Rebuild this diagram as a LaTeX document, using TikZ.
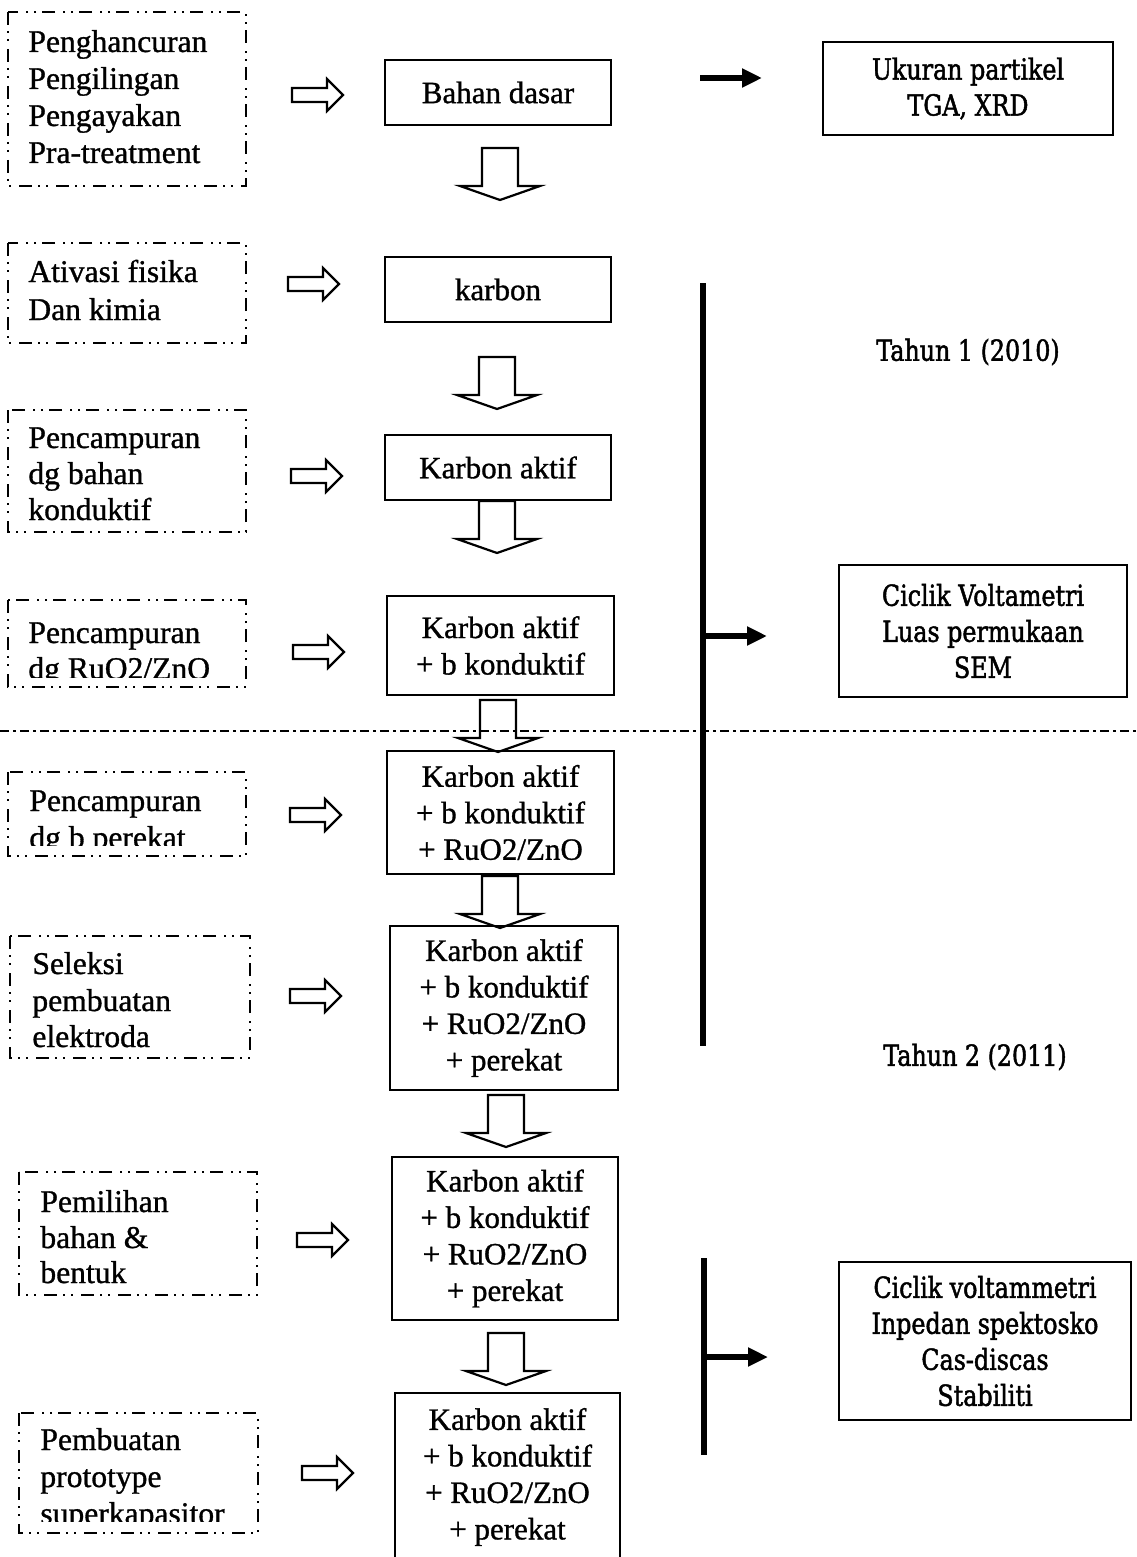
\documentclass[tikz,border=0pt]{standalone}
\usepackage{fontspec}
\setmainfont{Liberation Serif}[FakeBold=1]
\newfontfamily\rfont[FakeStretch=0.82,FakeBold=1.6]{DejaVu Serif}
\usetikzlibrary{arrows.meta}
\tikzset{
  lt/.style={font=\fontsize{15.8}{18.25}\selectfont, inner sep=0pt, anchor=base west},
  cbox/.style={draw, line width=1pt, font=\fontsize{15.5}{18.25}\selectfont, align=center, inner sep=0pt},
  rbox/.style={draw, line width=1pt, font=\rfont\fontsize{14.5}{18}\selectfont, align=center, inner sep=0pt},
  rtext/.style={font=\rfont\fontsize{14.5}{18}\selectfont, inner sep=0pt},
  dbox/.style={line width=1.1pt, dash pattern=on 6.5pt off 3pt on 1pt off 3pt on 1pt off 4pt},
  sepline/.style={line width=1.1pt, dash pattern=on 4.5pt off 2pt on 1.5pt off 2pt},
  vline/.style={line width=3.2pt},
  barrow/.style={line width=2.8pt, -{Triangle[length=10pt,width=9pt]}},
  hollowR/.pic={\draw[line width=1.1pt, line join=miter] (0,-7) -- (35,-7) -- (35,-16) -- (51,0) -- (35,16) -- (35,7) -- (0,7) -- cycle;},
  hollowD/.pic={\draw[line width=1.1pt, line join=miter] (-18,0) -- (18,0) -- (18,38) -- (40,38) -- (0,52) -- (-40,38) -- (-18,38) -- cycle;}
}
\begin{document}
\begin{tikzpicture}[x=0.5pt,y=-0.5pt]
\fill[white] (0,0) rectangle (1136,1557);
\useasboundingbox (0,0) rectangle (1136,1557);

% ---------- left dashed boxes ----------
\draw[dbox] (8,12) rectangle (246,186);
\node[lt] (d1a) at (28,52) {Penghancuran};
\node[lt] (d1b) at (28,89) {Pengilingan};
\node[lt] (d1c) at (28,126) {Pengayakan};
\node[lt] (d1d) at (28,163) {Pra-treatment};

\draw[dbox] (8,243) rectangle (246,343);
\node[lt] (d2a) at (28,282) {Ativasi fisika};
\node[lt] (d2b) at (28,320) {Dan kimia};

\draw[dbox] (8,410) rectangle (246,532);
\node[lt] (d3a) at (28,448) {Pencampuran};
\node[lt] (d3b) at (28,484) {dg bahan};
\node[lt] (d3c) at (28,520) {konduktif};

\draw[dbox] (8,600) rectangle (246,687);
\begin{scope}
\clip (10,602) rectangle (244,677);
\node[lt] (d4a) at (28,643) {Pencampuran};
\node[lt] (d4b) at (28,679) {dg RuO2/ZnO};
\end{scope}

\draw[dbox] (8,772) rectangle (246,856);
\begin{scope}
\clip (10,774) rectangle (244,845);
\node[lt] (d5a) at (29,811) {Pencampuran};
\node[lt] (d5b) at (29,848) {dg b perekat};
\end{scope}

\draw[dbox] (10,936) rectangle (250,1058);
\node[lt] (d6a) at (32,974) {Seleksi};
\node[lt] (d6b) at (32,1011) {pembuatan};
\node[lt] (d6c) at (32,1047) {elektroda};

\draw[dbox] (19,1172) rectangle (257,1295);
\node[lt] (d7a) at (40,1212) {Pemilihan};
\node[lt] (d7b) at (40,1248) {bahan \&};
\node[lt] (d7c) at (40,1283) {bentuk};

\draw[dbox] (19,1413) rectangle (258,1533);
\begin{scope}
\clip (21,1415) rectangle (256,1521);
\node[lt] (d8a) at (40,1450) {Pembuatan};
\node[lt] (d8b) at (40,1487) {prototype};
\node[lt] (d8c) at (40,1524) {superkapasitor};
\end{scope}

% ---------- hollow right arrows ----------
\pic at (292,95) {hollowR};
\pic at (288,284) {hollowR};
\pic at (291,476) {hollowR};
\pic at (293,652) {hollowR};
\pic at (290,815) {hollowR};
\pic at (290,996) {hollowR};
\pic at (297,1240) {hollowR};
\pic at (302,1473) {hollowR};

% ---------- centre boxes ----------
\node[cbox, minimum width=113pt, minimum height=32.5pt] (b1) at (498,92.5) {Bahan dasar};
\node[cbox, minimum width=113pt, minimum height=32.5pt] (b2) at (498,289.5) {karbon};
\node[cbox, minimum width=113pt, minimum height=32.5pt] (b3) at (498,467.5) {Karbon aktif};
\node[cbox, minimum width=113.5pt, minimum height=49.5pt] (b4) at (500.5,645.5) {Karbon aktif\\+ b konduktif};
\node[cbox, minimum width=113.5pt, minimum height=61.5pt] (b5) at (500.5,812.5) {Karbon aktif\\+ b konduktif\\+ RuO2/ZnO};
\node[cbox, minimum width=114pt, minimum height=82pt] (b6) at (504,1008) {Karbon aktif\\+ b konduktif\\+ RuO2/ZnO\\+ perekat};
\node[cbox, minimum width=113pt, minimum height=81.5pt] (b7) at (505,1238.5) {Karbon aktif\\+ b konduktif\\+ RuO2/ZnO\\+ perekat};
\node[cbox, minimum width=112.5pt, minimum height=84pt] (b8) at (507.5,1477) {Karbon aktif\\+ b konduktif\\+ RuO2/ZnO\\+ perekat};

% ---------- hollow down arrows ----------
\pic at (500,148) {hollowD};
\pic at (497,357) {hollowD};
\pic at (497,501) {hollowD};
\pic at (498,700) {hollowD};
\pic at (500,876) {hollowD};
\pic at (506,1095) {hollowD};
\pic at (506,1333) {hollowD};

% ---------- separator ----------
\coordinate (sepL) at (0,731);
\coordinate (sepR) at (1136,731);
\draw[sepline] (sepL) -- (sepR);

% ---------- right column ----------
\node[rbox, minimum width=145pt, minimum height=46.5pt] (r1) at (968,88.5) {Ukuran partikel\\TGA, XRD};
\node[rbox, minimum width=144pt, minimum height=66pt] (r2) at (983,631) {Ciclik Voltametri\\Luas permukaan\\SEM};
\node[rbox, minimum width=146pt, minimum height=79pt] (r3) at (985,1341) {Ciclik voltammetri\\Inpedan spektosko\\Cas-discas\\Stabiliti};
\node[rtext] (t1) at (968,352) {Tahun 1 (2010)};
\node[rtext] (t2) at (975,1057) {Tahun 2 (2011)};

\coordinate (v1t) at (703,283);
\coordinate (v1b) at (703,1046);
\coordinate (v2t) at (704,1258);
\coordinate (v2b) at (704,1455);
\draw[vline] (v1t) -- (v1b);
\draw[vline] (v2t) -- (v2b);

\coordinate (a1s) at (700,78);
\coordinate (a1e) at (762,78);
\coordinate (a2s) at (703,636);
\coordinate (a2e) at (767,636);
\coordinate (a3s) at (704,1357);
\coordinate (a3e) at (768,1357);
\draw[barrow] (a1s) -- (a1e);
\draw[barrow] (a2s) -- (a2e);
\draw[barrow] (a3s) -- (a3e);
\end{tikzpicture}
\end{document}
